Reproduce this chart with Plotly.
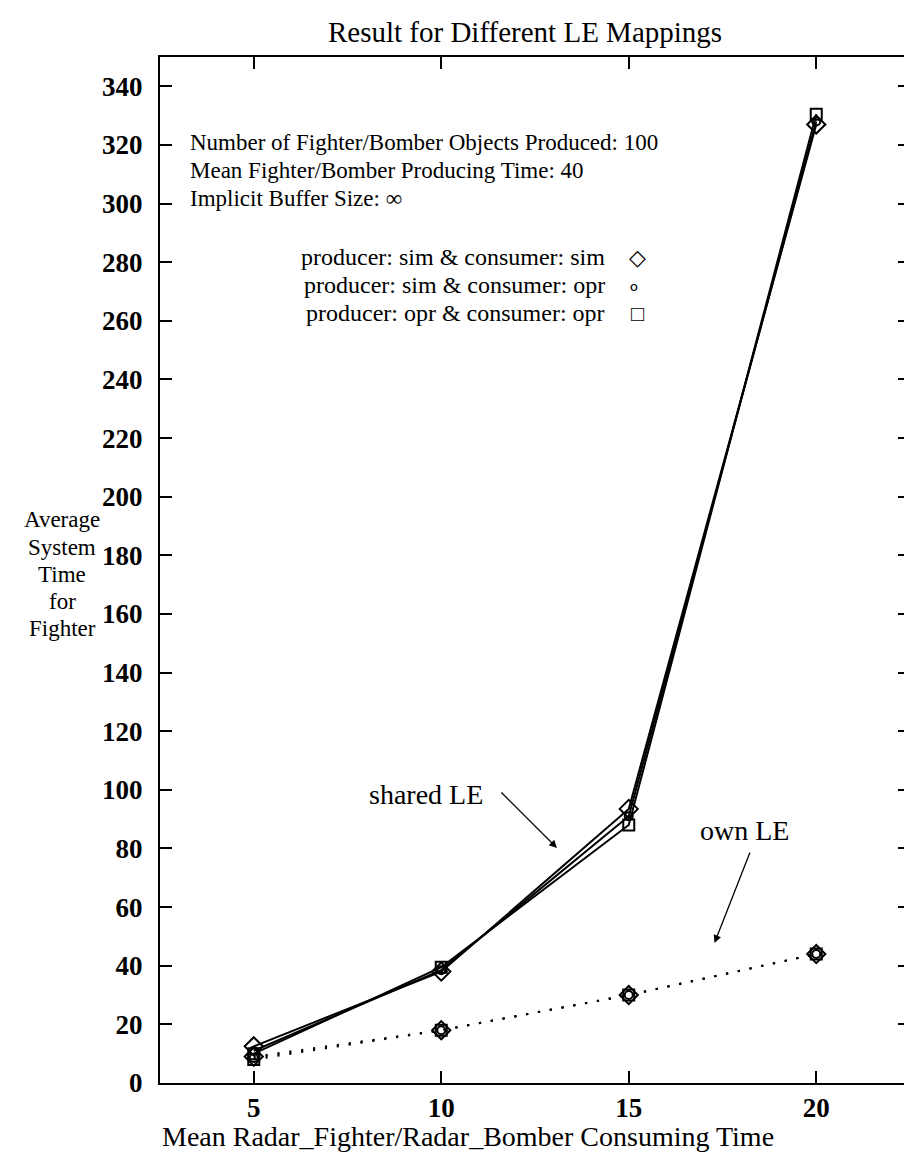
import plotly.graph_objects as go

# ---- data ----
consume_time = [5, 10, 15, 20]

shared_sim_sim = [12.5, 38.0, 93.5, 327.0]   # diamond
shared_sim_opr = [11.0, 38.5, 91.0, 328.0]   # circle
shared_opr_opr = [10.0, 39.5, 88.0, 330.5]   # square

own_sim_sim = [9.0, 18.0, 30.0, 44.0]
own_sim_opr = [8.5, 18.0, 30.0, 44.0]
own_opr_opr = [8.0, 18.0, 30.0, 44.0]

y_ticks = list(range(0, 341, 20))
x_ticks = [5, 10, 15, 20]

FONT = "Liberation Serif"
BLACK = "black"

fig = go.Figure()

series = [
    (shared_sim_sim, "diamond-open", 14, "solid"),
    (shared_sim_opr, "circle-open", 8, "solid"),
    (shared_opr_opr, "square-open", 11, "solid"),
    (own_sim_sim, "diamond-open", 14, "2px,10px"),
    (own_sim_opr, "circle-open", 8, "2px,10px"),
    (own_opr_opr, "square-open", 11, "2px,10px"),
]
for vals, sym, sz, dash in series:
    fig.add_trace(go.Scatter(
        x=consume_time, y=vals, mode="lines+markers",
        line=dict(color=BLACK, width=2, dash=dash),
        marker=dict(symbol=sym, size=sz, color=BLACK, line=dict(width=2, color=BLACK)),
        showlegend=False, hoverinfo="x+y",
    ))

L, R, T, B = 152, 8, 49, 81
W, H = 912, 1156
pw, ph = W - L - R, H - T - B

def px(x):
    return (x - L) / pw

def py(y):
    return (H - B - y) / ph

annotations = []

def text(t, x, y, size=24, xanchor="left", yanchor="middle"):
    annotations.append(dict(text=t, x=px(x), y=py(y), xref="paper", yref="paper",
                            xanchor=xanchor, yanchor=yanchor, showarrow=False,
                            font=dict(family=FONT, size=size, color=BLACK)))

text("Result for Different LE Mappings", 518, 24, size=29, xanchor="center")
text("Number of Fighter/Bomber Objects Produced: 100", 180, 134, size=23)
text("Mean Fighter/Bomber Producing Time: 40", 180, 162, size=23)
text("Implicit Buffer Size: ∞", 180, 190, size=23)
text("producer: sim &amp; consumer: sim", 600, 249, size=24, xanchor="right")
text("producer: sim &amp; consumer: opr", 600, 277, size=24, xanchor="right")
text("producer: opr &amp; consumer: opr", 600, 305, size=24, xanchor="right")
text("◇", 631, 249, size=22, xanchor="center")
text("∘", 627, 278, size=22, xanchor="center")
text("□", 631, 305, size=22, xanchor="center")
text("shared LE", 478, 786, size=28, xanchor="right")
text("own LE", 738, 822, size=28, xanchor="center")
text("Mean Radar_Fighter/Radar_Bomber Consuming Time", 461, 1128, size=28, xanchor="center")
for word, yy in zip(["Average", "System", "Time", "for", "Fighter"], [512, 539, 566, 593, 620]):
    text(word, 54, yy, size=23, xanchor="center")

# arrows (head x, head y, tail x, tail y) in page pixels
for (hx, hy, tx, ty) in [(550, 840, 493, 783), (708, 935, 744, 843)]:
    annotations.append(dict(text="", x=px(hx), y=py(hy), xref="paper", yref="paper",
                            ax=tx - hx, ay=ty - hy, showarrow=True,
                            arrowhead=2, arrowsize=1.2, arrowwidth=1.3, arrowcolor=BLACK))

axis_common = dict(showline=True, linecolor=BLACK, linewidth=2, mirror="ticks",
                   ticks="inside", ticklen=12, tickwidth=2, tickcolor=BLACK,
                   showgrid=False, zeroline=False,
                   tickfont=dict(family=FONT, size=27, color=BLACK, weight="bold"))

fig.update_layout(
    width=W, height=H,
    margin=dict(l=L, r=R, t=T, b=B),
    paper_bgcolor="white", plot_bgcolor="white",
    xaxis=dict(range=[2.5, 22.5], tickvals=x_ticks, ticktext=[str(v) for v in x_ticks],
               **axis_common),
    yaxis=dict(range=[0, 350], tickvals=y_ticks, ticktext=[str(v) for v in y_ticks],
               ticklabelstandoff=10, **axis_common),
    annotations=annotations,
    showlegend=False,
)

fig.write_html("out.html")
